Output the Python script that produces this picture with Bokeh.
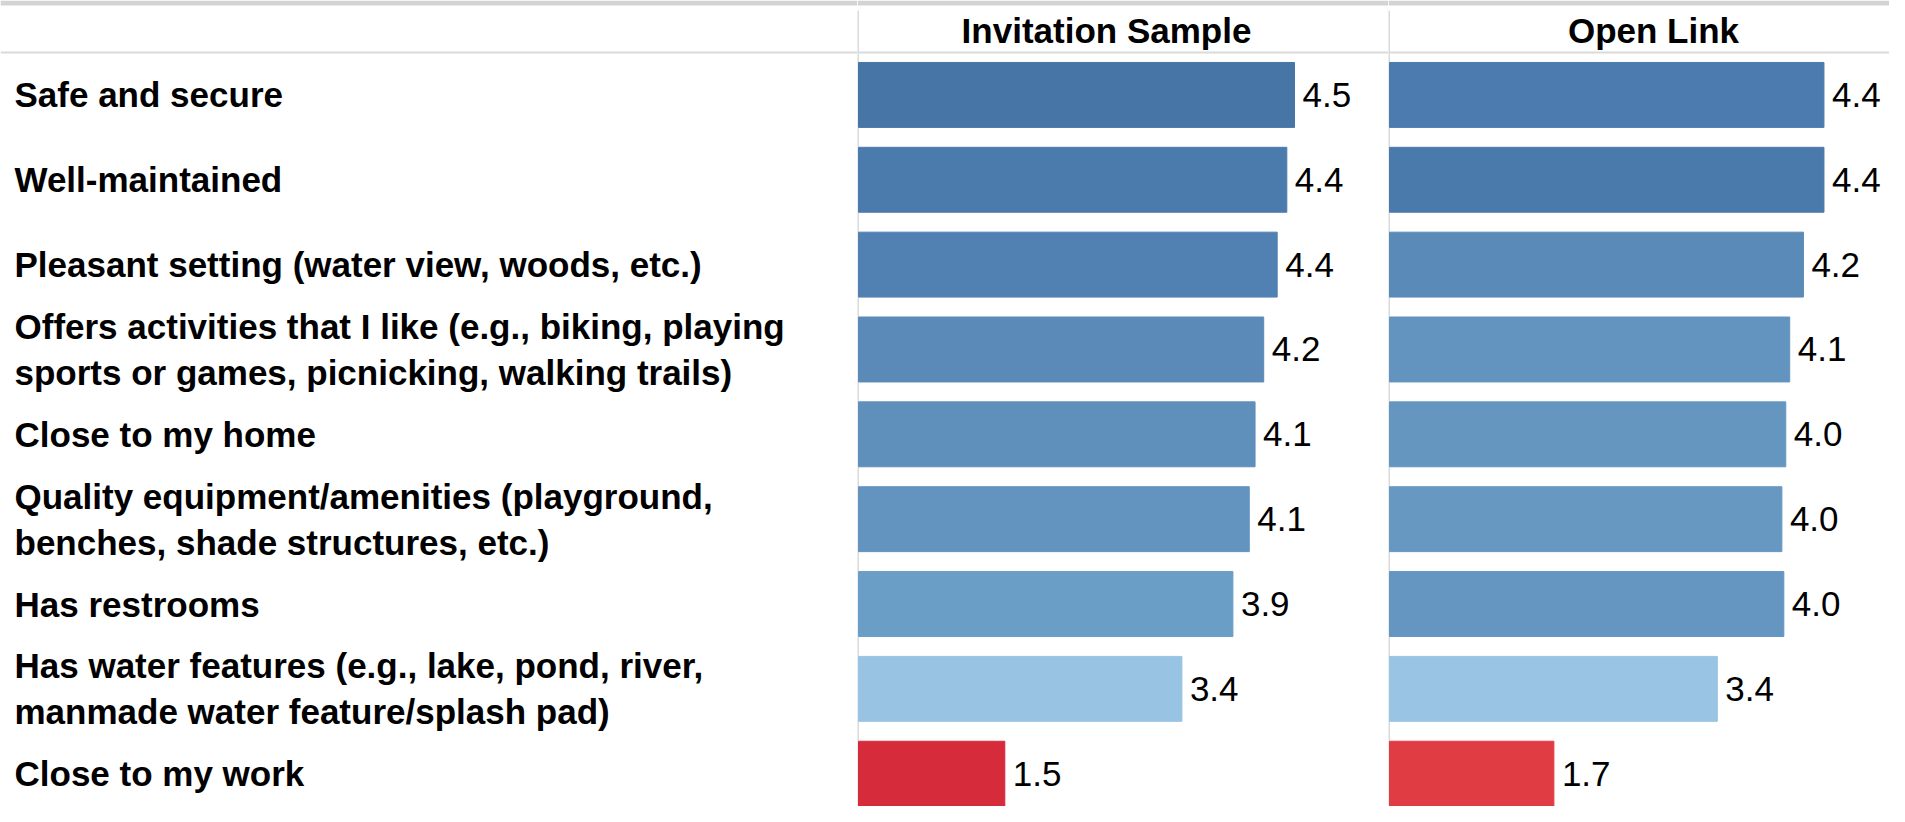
from bokeh.plotting import figure
from bokeh.layouts import row
from bokeh.models import Range1d, ColumnDataSource, Span, Label, BoxAnnotation
from bokeh.core.properties import value
from bokeh.embed import file_html
from bokeh.resources import INLINE

# ---------------- data ----------------
categories = [
    "Safe and secure",
    "Well-maintained",
    "Pleasant setting (water view, woods, etc.)",
    "Offers activities that I like (e.g., biking, playing\nsports or games, picnicking, walking trails)",
    "Close to my home",
    "Quality equipment/amenities (playground,\nbenches, shade structures, etc.)",
    "Has restrooms",
    "Has water features (e.g., lake, pond, river,\nmanmade water feature/splash pad)",
    "Close to my work",
]
panel_titles = ["Invitation Sample", "Open Link"]
invitation_values = [4.53, 4.45, 4.35, 4.21, 4.12, 4.06, 3.89, 3.36, 1.52]
invitation_labels = ["4.5", "4.4", "4.4", "4.2", "4.1", "4.1", "3.9", "3.4", "1.5"]
open_values = [4.44, 4.44, 4.23, 4.09, 4.05, 4.01, 4.03, 3.35, 1.68]
open_labels = ["4.4", "4.4", "4.2", "4.1", "4.0", "4.0", "4.0", "3.4", "1.7"]

# ---------------- styles ----------------
invitation_colors = ["#4775a6", "#4b7bad", "#5181b2", "#5b8ab8", "#5f8fbb",
                     "#6394c0", "#6a9ec6", "#98c3e3", "#d62b3b"]
open_colors = ["#4c7caf", "#4a7aab", "#5a8ab8", "#6394bf", "#6596c0",
               "#6798c2", "#6596c2", "#99c4e3", "#e03c43"]

FONT = "Liberation Sans"
FS = "35px"
GRID = "#dadada"
BAND = "#d3d3d3"

ROW_PX = 84.85
H = 806
HEADER_PX = 52
y_end = 0.5 + HEADER_PX / ROW_PX
y_start = y_end - H / ROW_PX
ys = [-i for i in range(len(categories))]


def base_fig(width, x0, x1):
    p = figure(width=width, height=H, x_range=Range1d(x0, x1),
               y_range=Range1d(y_start, y_end), output_backend="svg",
               toolbar_location=None, min_border=0,
               x_axis_location=None, y_axis_location=None)
    p.xgrid.visible = False
    p.ygrid.visible = False
    p.outline_line_color = None
    p.background_fill_color = "white"
    p.border_fill_color = "white"
    p.add_layout(BoxAnnotation(bottom=y_end - 5 / ROW_PX, fill_color=BAND,
                               fill_alpha=1, line_color=None))
    p.add_layout(Span(location=0.5, dimension="width", line_color=GRID,
                      line_width=2))
    return p


# label column
LW = 857
pl = base_fig(LW, 0, LW)
pl.text(x=[14] * len(categories), y=ys, text=categories,
        text_font=value(FONT), text_font_style="bold", text_font_size=FS,
        text_color="#000000", text_align="left", text_baseline="middle",
        text_line_height=1.18)


def panel(width, scale, vals, labels, colors, title, title_px):
    x0 = -1 / scale
    x1 = (width - 1) / scale
    p = base_fig(width, x0, x1)
    xl = -0.5 / scale
    p.segment(x0=[xl], y0=[y_end - 10 / ROW_PX], x1=[xl], y1=[y_start],
              line_color=GRID, line_width=2)
    src = ColumnDataSource(dict(y=ys, v=vals, lab=labels, c=colors))
    p.hbar(y="y", left=0, right="v", height=66 / 86.25, color="c", source=src)
    p.text(x="v", y="y", text="lab", source=src, x_offset=8,
           text_font=value(FONT), text_font_size=FS, text_color="#000000",
           text_align="left", text_baseline="middle")
    p.add_layout(Label(x=(title_px - 1) / scale, y=y_end - 30 / ROW_PX,
                       text=title, text_font=FONT, text_font_size=FS,
                       text_font_style="bold", text_color="#000000",
                       text_align="center", text_baseline="middle"))
    return p


p1 = panel(531, 96.25, invitation_values, invitation_labels, invitation_colors,
           panel_titles[0], 249)
p2 = panel(501, 97.85, open_values, open_labels, open_colors,
           panel_titles[1], 265)

layout = row(pl, p1, p2)
open("out.html", "w").write(file_html(layout, INLINE))
